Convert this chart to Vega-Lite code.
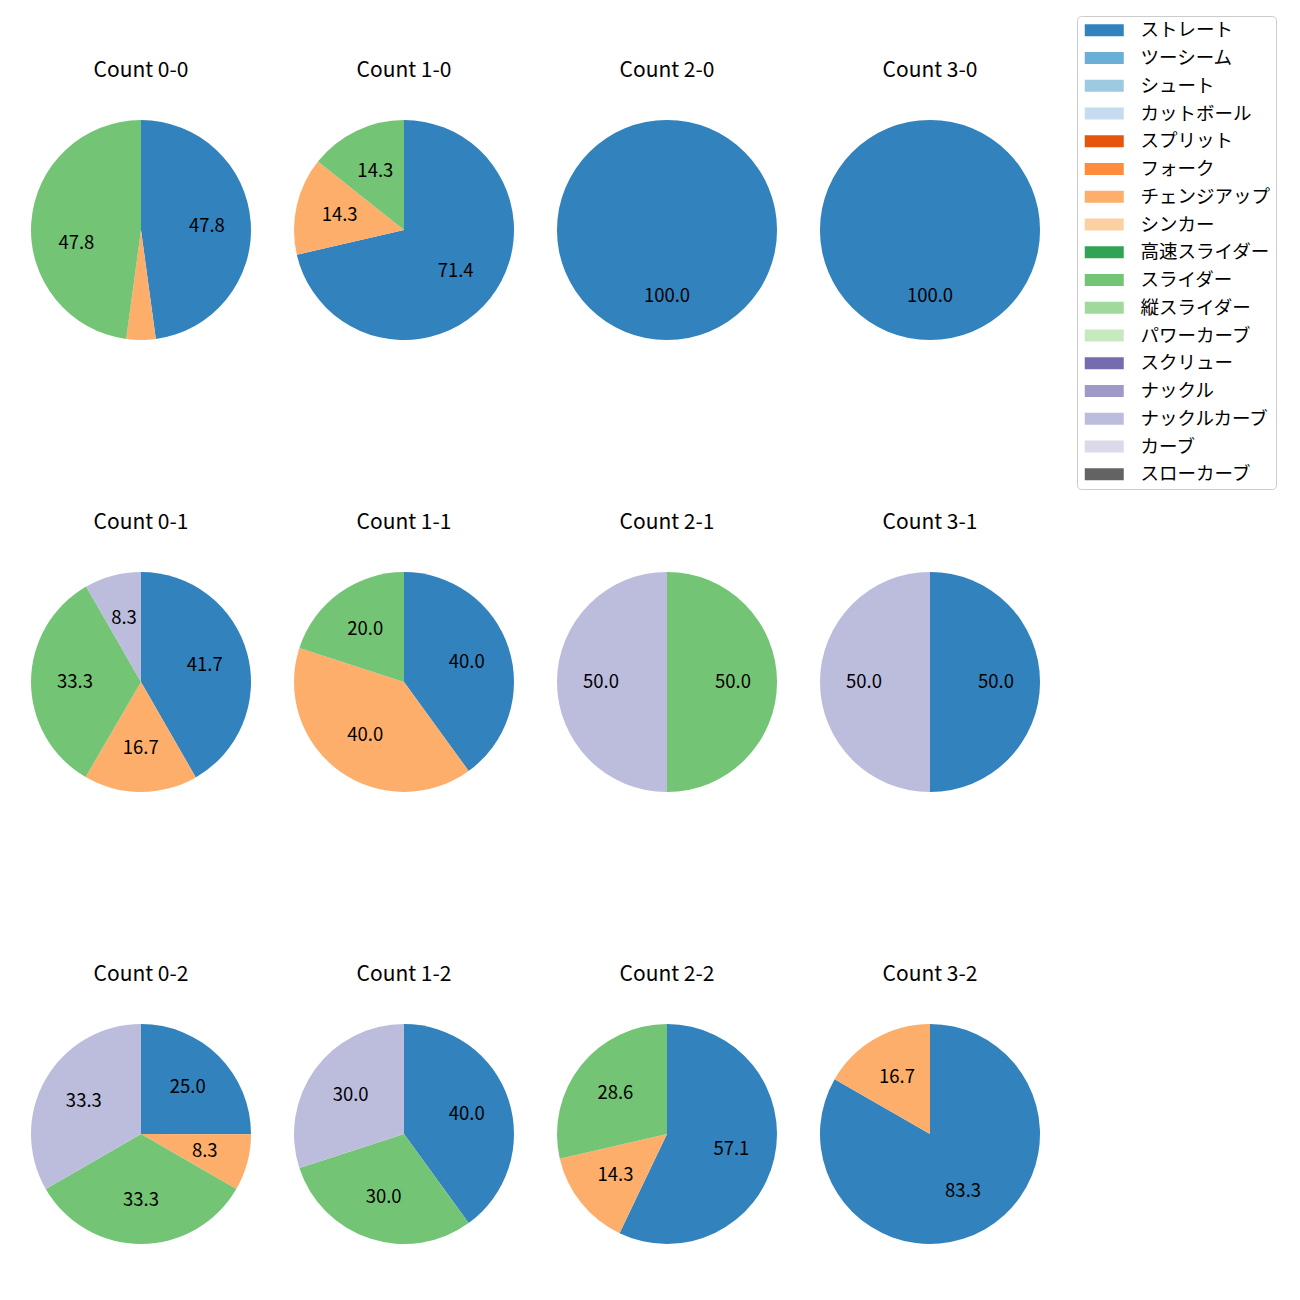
{
  "$schema": "https://vega.github.io/schema/vega-lite/v6.json",
  "padding": {"left": 31, "top": 15, "right": 5, "bottom": 5},
  "background": "white",
  "config": {"view": {"stroke": null}, "font": "Noto Sans CJK JP"},
  "data": {"values": [
    {"count": "Count 0-0", "pitch": "ストレート", "o": 1, "pct": 47.8},
    {"count": "Count 0-0", "pitch": "チェンジアップ", "o": 7, "pct": 4.3},
    {"count": "Count 0-0", "pitch": "スライダー", "o": 10, "pct": 47.8},
    {"count": "Count 1-0", "pitch": "ストレート", "o": 1, "pct": 71.4},
    {"count": "Count 1-0", "pitch": "チェンジアップ", "o": 7, "pct": 14.3},
    {"count": "Count 1-0", "pitch": "スライダー", "o": 10, "pct": 14.3},
    {"count": "Count 2-0", "pitch": "ストレート", "o": 1, "pct": 100.0},
    {"count": "Count 3-0", "pitch": "ストレート", "o": 1, "pct": 100.0},
    {"count": "Count 0-1", "pitch": "ストレート", "o": 1, "pct": 41.7},
    {"count": "Count 0-1", "pitch": "チェンジアップ", "o": 7, "pct": 16.7},
    {"count": "Count 0-1", "pitch": "スライダー", "o": 10, "pct": 33.3},
    {"count": "Count 0-1", "pitch": "ナックルカーブ", "o": 15, "pct": 8.3},
    {"count": "Count 1-1", "pitch": "ストレート", "o": 1, "pct": 40.0},
    {"count": "Count 1-1", "pitch": "チェンジアップ", "o": 7, "pct": 40.0},
    {"count": "Count 1-1", "pitch": "スライダー", "o": 10, "pct": 20.0},
    {"count": "Count 2-1", "pitch": "スライダー", "o": 10, "pct": 50.0},
    {"count": "Count 2-1", "pitch": "ナックルカーブ", "o": 15, "pct": 50.0},
    {"count": "Count 3-1", "pitch": "ストレート", "o": 1, "pct": 50.0},
    {"count": "Count 3-1", "pitch": "ナックルカーブ", "o": 15, "pct": 50.0},
    {"count": "Count 0-2", "pitch": "ストレート", "o": 1, "pct": 25.0},
    {"count": "Count 0-2", "pitch": "チェンジアップ", "o": 7, "pct": 8.3},
    {"count": "Count 0-2", "pitch": "スライダー", "o": 10, "pct": 33.3},
    {"count": "Count 0-2", "pitch": "ナックルカーブ", "o": 15, "pct": 33.3},
    {"count": "Count 1-2", "pitch": "ストレート", "o": 1, "pct": 40.0},
    {"count": "Count 1-2", "pitch": "スライダー", "o": 10, "pct": 30.0},
    {"count": "Count 1-2", "pitch": "ナックルカーブ", "o": 15, "pct": 30.0},
    {"count": "Count 2-2", "pitch": "ストレート", "o": 1, "pct": 57.1},
    {"count": "Count 2-2", "pitch": "チェンジアップ", "o": 7, "pct": 14.3},
    {"count": "Count 2-2", "pitch": "スライダー", "o": 10, "pct": 28.6},
    {"count": "Count 3-2", "pitch": "ストレート", "o": 1, "pct": 83.3},
    {"count": "Count 3-2", "pitch": "チェンジアップ", "o": 7, "pct": 16.7}
  ]},
  "facet": {
    "field": "count", "type": "nominal",
    "sort": ["Count 0-0","Count 1-0","Count 2-0","Count 3-0","Count 0-1","Count 1-1","Count 2-1","Count 3-1","Count 0-2","Count 1-2","Count 2-2","Count 3-2"],
    "header": {"title": null, "labelFontSize": 21, "labelColor": "black", "labelPadding": 39, "labelFont": "Noto Sans CJK JP"}
  },
  "columns": 4,
  "spacing": {"column": 43, "row": 172},
  "spec": {
    "width": 220, "height": 220,
    "layer": [
      {
        "mark": {"type": "arc"},
        "encoding": {
          "theta": {"field": "pct", "type": "quantitative", "stack": true},
          "order": {"field": "o", "type": "quantitative"},
          "color": {
            "field": "pitch", "type": "nominal",
            "scale": {
              "domain": ["ストレート","ツーシーム","シュート","カットボール","スプリット","フォーク","チェンジアップ","シンカー","高速スライダー","スライダー","縦スライダー","パワーカーブ","スクリュー","ナックル","ナックルカーブ","カーブ","スローカーブ"],
              "range": ["#3182bd","#6baed6","#9ecae1","#c6dbef","#e6550d","#fd8d3c","#fdae6b","#fdd0a2","#31a354","#74c476","#a1d99b","#c7e9c0","#756bb1","#9e9ac8","#bcbddc","#dadaeb","#636363"]
            },
            "legend": {
              "title": null, "orient": "none", "legendX": 1046, "legendY": -104,
              "symbolType": "M-1,-0.923H5V0.923H-1Z", "symbolSize": 169, "symbolStrokeWidth": 0,
              "labelFontSize": 18.5, "labelColor": "black", "labelOffset": 40, "labelFont": "Noto Sans CJK JP",
              "rowPadding": 8.75, "padding": 5, "strokeColor": "#cccccc", "fillColor": "white", "cornerRadius": 4,
              "labelLimit": 300
            }
          }
        }
      },
      {
        "transform": [{"filter": "datum.pct >= 5"}],
        "mark": {"type": "text", "radius": 66, "fontSize": 18.5, "color": "black", "font": "Noto Sans CJK JP"},
        "encoding": {
          "theta": {"field": "pct", "type": "quantitative", "stack": true},
          "order": {"field": "o", "type": "quantitative"},
          "text": {"field": "pct", "type": "quantitative", "format": ".1f"}
        }
      }
    ]
  }
}
